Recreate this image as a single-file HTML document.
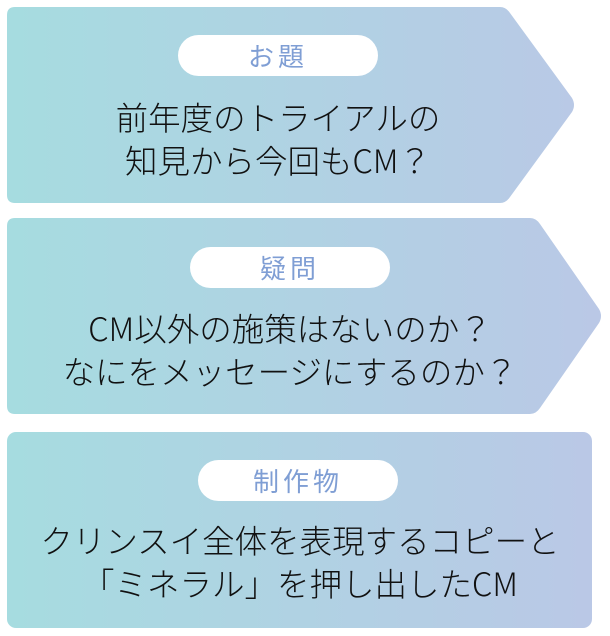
<!DOCTYPE html>
<html><head><meta charset="utf-8"><style>
body{margin:0;width:610px;height:636px;background:#fff;position:relative;overflow:hidden;font-family:"Liberation Sans","Noto Sans CJK JP",sans-serif;}
svg{position:absolute;left:0;top:0}
.pill{position:absolute;background:#fff;border-radius:21px;height:41px;width:200px;text-align:center;line-height:41px;font-size:26px;color:#7f9ed4;letter-spacing:4px;font-weight:400;font-family:"Noto Sans CJK JP",sans-serif}
.t{position:absolute;left:0;text-align:center;font-size:32.5px;line-height:43px;color:#111;font-weight:300;font-family:"Noto Sans CJK JP",sans-serif}
</style></head><body>
<svg width="610" height="636">
<defs><linearGradient id="g" x1="0" x2="1" y1="0" y2="0"><stop offset="0" stop-color="#a6dce0"/><stop offset="1" stop-color="#bac8e6"/></linearGradient>
<linearGradient id="g2" gradientUnits="userSpaceOnUse" x1="7" x2="603" y1="0" y2="0"><stop offset="0" stop-color="#a6dce0"/><stop offset="1" stop-color="#bac8e6"/></linearGradient></defs>
<path d="M15 7 H500 Q506 7 510 13 L572 98 Q576 105 572 112 L510 197 Q506 203 500 203 H15 Q7 203 7 195 V15 Q7 7 15 7 Z" fill="url(#g2)"/>
<path d="M15 218 H530 Q536 218 540 224 L599 309 Q603 316 599 323 L540 408 Q536 414 530 414 H15 Q7 414 7 406 V226 Q7 218 15 218 Z" fill="url(#g2)"/>
<rect x="7" y="432" width="585" height="196" rx="9" fill="url(#g)"/>
</svg>
<div class="pill" style="left:178px;top:35px">お題</div>
<div class="t" style="top:95px;width:556px">前年度のトライアルの<br>知見から今回もCM？</div>
<div class="pill" style="left:190px;top:247px">疑問</div>
<div class="t" style="top:306px;width:580px">CM以外の施策はないのか？<br>なにをメッセージにするのか？</div>
<div class="pill" style="left:198px;top:460px">制作物</div>
<div class="t" style="top:518px;width:600px">クリンスイ全体を表現するコピーと<br>「ミネラル」を押し出したCM</div>
</body></html>
